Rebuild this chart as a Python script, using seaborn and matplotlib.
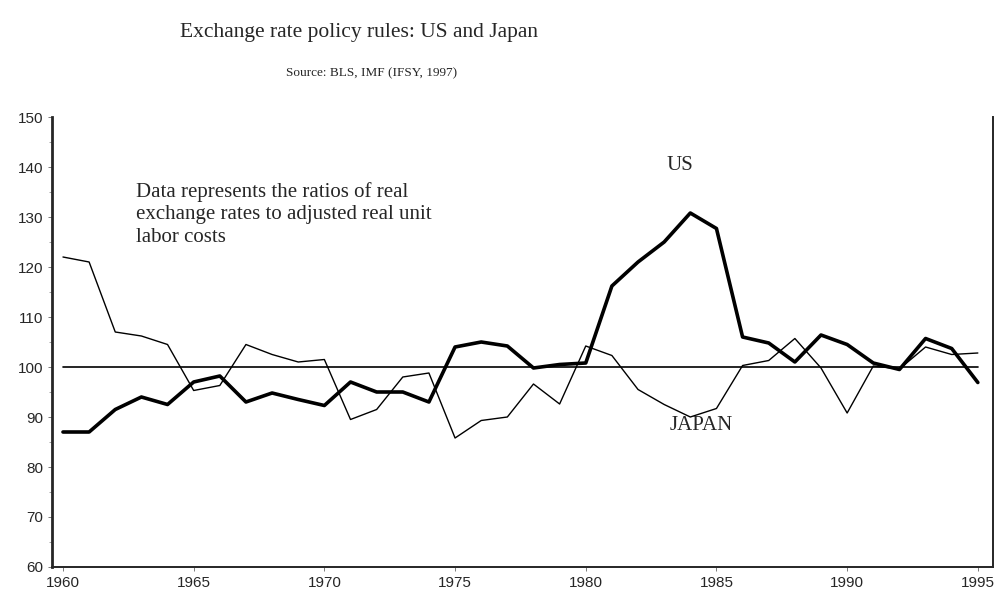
import pandas as pd
import matplotlib.pyplot as plt
import seaborn as sns

# Values
years = list(range(1960, 1996))
us = [87, 87, 91.5, 94, 92.5, 97, 98.2, 93, 94.8, 93.5,
      92.3, 97, 95, 95, 93, 104, 105, 104.2, 99.8, 100.5,
      100.8, 116.2, 121, 125, 130.8, 127.7, 106, 104.8, 101, 106.4,
      104.5, 100.8, 99.5, 105.7, 103.7, 96.9]
japan = [122, 121, 107, 106.2, 104.5, 95.3, 96.3, 104.5, 102.5, 101,
         101.5, 89.5, 91.5, 98, 98.8, 85.8, 89.3, 90, 96.6, 92.6,
         104.2, 102.3, 95.5, 92.5, 90, 91.7, 100.3, 101.3, 105.7, 99.8,
         90.8, 100.2, 99.6, 104, 102.5, 102.8]
baseline = [100] * len(years)

df = pd.DataFrame({"year": years, "US": us, "JAPAN": japan, "base": baseline})

sns.set_style("ticks")
plt.rcParams['font.family'] = ['Liberation Sans', 'DejaVu Sans']

fig = plt.figure(figsize=(10.01, 5.91), dpi=100)
ax = fig.add_axes([52 / 1001, 1 - 567 / 591, (993 - 52) / 1001, (567 - 117) / 591])

sns.lineplot(data=df, x="year", y="base", ax=ax, color="black", linewidth=1.2)
sns.lineplot(data=df, x="year", y="JAPAN", ax=ax, color="black", linewidth=1.0)
sns.lineplot(data=df, x="year", y="US", ax=ax, color="black", linewidth=2.6)

ax.set_xlim(1959.58, 1995.58)
ax.set_ylim(60, 150)
ax.set_xticks(range(1960, 1996, 5))
ax.set_yticks(range(60, 151, 10))
ax.set_yticks(range(65, 150, 10), minor=True)
ax.set_xlabel("")
ax.set_ylabel("")
ax.tick_params(axis="both", labelsize=11, length=3, width=0.6, color="0.4")
ax.tick_params(axis="y", which="minor", length=2, width=0.5, color="0.5")

ax.spines["top"].set_visible(False)
ax.spines["left"].set_linewidth(2.0)
ax.spines["bottom"].set_linewidth(1.4)
ax.spines["right"].set_linewidth(1.4)

serif = ['Liberation Serif', 'DejaVu Serif']
ax.text(1962.8, 137.0, "Data represents the ratios of real\nexchange rates to adjusted real unit\nlabor costs",
        family=serif, fontsize=15, va="top", ha="left", linespacing=1.25)
ax.text(1983.6, 140.4, "US", family=serif, fontsize=15, ha="center", va="center")
ax.text(1984.4, 88.4, "JAPAN", family=serif, fontsize=15, ha="center", va="center")

fig.text(0.359, 1 - 33 / 591, "Exchange rate policy rules: US and Japan", family=serif,
         fontsize=15.5, ha="center", va="center")
fig.text(0.371, 1 - 73 / 591, "Source: BLS, IMF (IFSY, 1997)", family=serif,
         fontsize=9.5, ha="center", va="center")

fig.savefig("out.png", dpi=100)
